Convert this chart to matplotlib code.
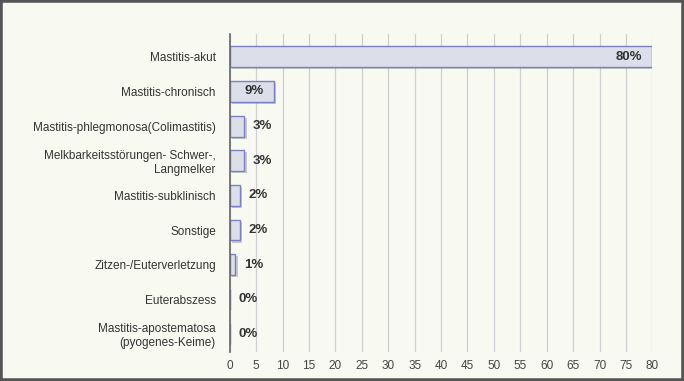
import numpy as np
import matplotlib.pyplot as plt
from matplotlib.patches import Rectangle
import matplotlib.patheffects as pe

plt.rcParams['font.family'] = ['Liberation Sans', 'DejaVu Sans']

# Daten
kategorien = ['Mastitis-akut', 'Mastitis-chronisch', 'Mastitis-phlegmonosa(Colimastitis)',
              'Melkbarkeitsstörungen- Schwer-,\nLangmelker', 'Mastitis-subklinisch', 'Sonstige',
              'Zitzen-/Euterverletzung', 'Euterabszess', 'Mastitis-apostematosa\n(pyogenes-Keime)']
werte = [80.0, 8.3, 2.8, 2.8, 1.9, 1.9, 1.1, 0.0, 0.0]
beschriftung = ['80%', '9%', '3%', '3%', '2%', '2%', '1%', '0%', '0%']
innen = [True, True, False, False, False, False, False, False, False]
xticks = np.arange(0, 85, 5)

bg = '#f8faf2'
fig = plt.figure(figsize=(6.84, 3.81), dpi=100, facecolor=bg)
ax = fig.add_axes([0.3358, 0.0761, 0.6179, 0.8347])
ax.set_facecolor(bg)

y = np.arange(len(kategorien))
bars = ax.barh(y, werte, height=0.6, color='#dcdfea', edgecolor='#7b80c2', linewidth=1.0, zorder=3)
for b in bars:
    b.set_path_effects([pe.SimplePatchShadow(offset=(1.5, -1.5), shadow_rgbFace='#999999', alpha=0.5), pe.Normal()])

for yi, w, lab, inn in zip(y, werte, beschriftung, innen):
    if inn:
        ax.annotate(lab, (w, yi), xytext=(-7, 0), textcoords='offset points', ha='right', va='center',
                    fontsize=9.5, fontweight='bold', color='#333333', zorder=4)
    else:
        ax.annotate(lab, (w, yi), xytext=(6, 0), textcoords='offset points', ha='left', va='center',
                    fontsize=9.5, fontweight='bold', color='#333333', zorder=4)

ax.set_xlim(0, 80)
ax.set_ylim(len(kategorien) - 0.48, -0.66)
ax.set_xticks(xticks)
ax.set_yticks(y)
ax.set_yticklabels(kategorien)
ax.tick_params(axis='y', length=0, pad=10, labelsize=8.5, labelcolor='#333333')
ax.tick_params(axis='x', length=0, pad=6, labelsize=8.5, labelcolor='#444444')
ax.xaxis.grid(True, color='#cfcfcf', linewidth=0.9, zorder=0)
for s in ['top', 'right', 'bottom']:
    ax.spines[s].set_visible(False)
ax.spines['left'].set_color('#666666')
ax.spines['left'].set_linewidth(1.2)
ax.spines['left'].set_zorder(5)

# Rahmen
fig.patches.append(Rectangle((0, 0), 1, 1, transform=fig.transFigure, fill=False,
                             edgecolor='#555555', linewidth=4, zorder=10))

fig.savefig('out.png', dpi=100, facecolor=bg)
